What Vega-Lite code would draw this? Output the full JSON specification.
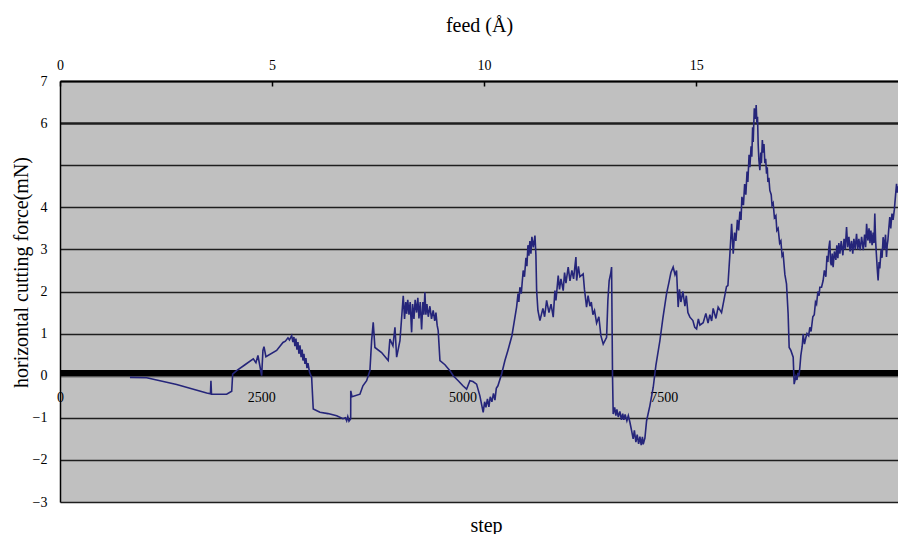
{
  "$schema": "https://vega.github.io/schema/vega-lite/v6.json",
  "autosize": "none",
  "width": 838,
  "height": 421,
  "padding": {"left": 60, "top": 81, "right": 0, "bottom": 32},
  "background": "white",
  "view": {"fill": "#c0c0c0", "stroke": null},
  "config": {
    "font": "Liberation Serif",
    "axis": {"labelFont": "Liberation Serif", "titleFont": "Liberation Serif", "labelColor": "black", "titleColor": "black", "titleFontWeight": "normal", "labelFontSize": 14, "titleFontSize": 20}
  },
  "datasets": {
    "force": [
      {"step": 869, "force": -0.04}, {"step": 1077, "force": -0.05}, {"step": 1449, "force": -0.21}, {"step": 1822, "force": -0.41},
      {"step": 1869, "force": -0.43}, {"step": 1875, "force": -0.12}, {"step": 1882, "force": -0.44}, {"step": 2070, "force": -0.44},
      {"step": 2133, "force": -0.37}, {"step": 2145, "force": 0.04}, {"step": 2195, "force": 0.12}, {"step": 2298, "force": 0.26},
      {"step": 2401, "force": 0.40}, {"step": 2434, "force": 0.31}, {"step": 2459, "force": 0.48}, {"step": 2505, "force": 0.0},
      {"step": 2521, "force": 0.60}, {"step": 2534, "force": 0.69}, {"step": 2558, "force": 0.45}, {"step": 2691, "force": 0.60},
      {"step": 2770, "force": 0.79}, {"step": 2800, "force": 0.82}, {"step": 2832, "force": 0.90}, {"step": 2850, "force": 0.85},
      {"step": 2878, "force": 0.95}, {"step": 2893, "force": 0.80}, {"step": 2906, "force": 0.92}, {"step": 2918, "force": 0.70},
      {"step": 2931, "force": 0.88}, {"step": 2943, "force": 0.62}, {"step": 2956, "force": 0.80}, {"step": 2968, "force": 0.52},
      {"step": 2981, "force": 0.72}, {"step": 2995, "force": 0.44}, {"step": 3008, "force": 0.62}, {"step": 3018, "force": 0.36},
      {"step": 3030, "force": 0.52}, {"step": 3043, "force": 0.28}, {"step": 3055, "force": 0.42}, {"step": 3068, "force": 0.18},
      {"step": 3080, "force": 0.30}, {"step": 3100, "force": 0.08}, {"step": 3126, "force": -0.04}, {"step": 3146, "force": -0.79},
      {"step": 3229, "force": -0.87}, {"step": 3329, "force": -0.90}, {"step": 3437, "force": -0.95}, {"step": 3515, "force": -1.02},
      {"step": 3545, "force": -1.00}, {"step": 3561, "force": -1.07}, {"step": 3575, "force": -0.97}, {"step": 3590, "force": -1.08},
      {"step": 3611, "force": -1.02}, {"step": 3612, "force": -0.36},
      {"step": 3627, "force": -0.50}, {"step": 3726, "force": -0.44}, {"step": 3763, "force": -0.24}, {"step": 3809, "force": -0.12},
      {"step": 3850, "force": 0.12}, {"step": 3871, "force": 0.83}, {"step": 3891, "force": 1.27}, {"step": 3912, "force": 0.67},
      {"step": 3995, "force": 0.55}, {"step": 4077, "force": 0.36}, {"step": 4098, "force": 0.87}, {"step": 4136, "force": 0.71},
      {"step": 4161, "force": 1.15}, {"step": 4182, "force": 0.44}, {"step": 4223, "force": 0.83}, {"step": 4264, "force": 1.90},
      {"step": 4280, "force": 1.35}, {"step": 4295, "force": 1.75}, {"step": 4306, "force": 1.47}, {"step": 4320, "force": 1.80},
      {"step": 4335, "force": 1.45}, {"step": 4350, "force": 1.75}, {"step": 4368, "force": 1.03}, {"step": 4380, "force": 1.70},
      {"step": 4397, "force": 1.35}, {"step": 4412, "force": 1.80}, {"step": 4430, "force": 1.50}, {"step": 4445, "force": 1.85},
      {"step": 4459, "force": 1.36}, {"step": 4475, "force": 1.75}, {"step": 4492, "force": 1.10}, {"step": 4508, "force": 1.75},
      {"step": 4520, "force": 1.45}, {"step": 4533, "force": 1.98}, {"step": 4545, "force": 1.45}, {"step": 4558, "force": 1.70},
      {"step": 4575, "force": 1.40}, {"step": 4595, "force": 1.65}, {"step": 4615, "force": 1.35}, {"step": 4636, "force": 1.55},
      {"step": 4655, "force": 1.30}, {"step": 4670, "force": 1.50}, {"step": 4685, "force": 1.20}, {"step": 4698, "force": 1.07},
      {"step": 4720, "force": 0.36}, {"step": 4782, "force": 0.26},
      {"step": 4844, "force": 0.12}, {"step": 4885, "force": 0.0}, {"step": 4947, "force": -0.12}, {"step": 5005, "force": -0.24},
      {"step": 5051, "force": -0.32}, {"step": 5092, "force": -0.12}, {"step": 5130, "force": -0.14}, {"step": 5175, "force": -0.20},
      {"step": 5216, "force": -0.48}, {"step": 5257, "force": -0.87}, {"step": 5275, "force": -0.62}, {"step": 5291, "force": -0.75},
      {"step": 5310, "force": -0.55}, {"step": 5328, "force": -0.74}, {"step": 5345, "force": -0.50},
      {"step": 5365, "force": -0.62}, {"step": 5385, "force": -0.42}, {"step": 5403, "force": -0.58}, {"step": 5420, "force": -0.30},
      {"step": 5440, "force": -0.24}, {"step": 5486, "force": 0.04},
      {"step": 5527, "force": 0.36}, {"step": 5564, "force": 0.60}, {"step": 5614, "force": 0.95}, {"step": 5672, "force": 1.63},
      {"step": 5690, "force": 1.95}, {"step": 5700, "force": 1.75}, {"step": 5713, "force": 2.10}, {"step": 5730, "force": 1.95},
      {"step": 5754, "force": 2.50}, {"step": 5770, "force": 2.35}, {"step": 5788, "force": 2.80}, {"step": 5800, "force": 2.60},
      {"step": 5813, "force": 3.10}, {"step": 5825, "force": 2.85}, {"step": 5837, "force": 3.20}, {"step": 5850, "force": 2.90},
      {"step": 5862, "force": 3.30}, {"step": 5880, "force": 3.05}, {"step": 5900, "force": 3.33}, {"step": 5912, "force": 2.86},
      {"step": 5921, "force": 2.02}, {"step": 5937, "force": 1.55}, {"step": 5962, "force": 1.31}, {"step": 5999, "force": 1.60},
      {"step": 6020, "force": 1.40}, {"step": 6045, "force": 1.79}, {"step": 6074, "force": 1.50}, {"step": 6100, "force": 1.70},
      {"step": 6127, "force": 1.39}, {"step": 6148, "force": 2.02},
      {"step": 6161, "force": 1.79}, {"step": 6189, "force": 2.38}, {"step": 6205, "force": 2.05}, {"step": 6223, "force": 2.30},
      {"step": 6251, "force": 2.02}, {"step": 6268, "force": 2.45},
      {"step": 6285, "force": 2.20}, {"step": 6313, "force": 2.58}, {"step": 6335, "force": 2.25}, {"step": 6359, "force": 2.50},
      {"step": 6380, "force": 2.30}, {"step": 6409, "force": 2.82},
      {"step": 6418, "force": 2.26}, {"step": 6440, "force": 2.60}, {"step": 6458, "force": 2.35}, {"step": 6499, "force": 2.42},
      {"step": 6515, "force": 2.05}, {"step": 6541, "force": 1.63},
      {"step": 6560, "force": 1.90}, {"step": 6583, "force": 1.65}, {"step": 6600, "force": 1.75}, {"step": 6620, "force": 1.45},
      {"step": 6640, "force": 1.55}, {"step": 6666, "force": 1.25}, {"step": 6694, "force": 1.40},
      {"step": 6719, "force": 0.95}, {"step": 6748, "force": 0.75}, {"step": 6790, "force": 0.91}, {"step": 6806, "force": 1.79},
      {"step": 6822, "force": 2.26}, {"step": 6843, "force": 2.45}, {"step": 6852, "force": 2.58}, {"step": 6864, "force": -0.04},
      {"step": 6872, "force": -0.91}, {"step": 6890, "force": -0.75}, {"step": 6905, "force": -0.95}, {"step": 6918, "force": -0.80},
      {"step": 6935, "force": -0.98}, {"step": 6955, "force": -0.85}, {"step": 6975, "force": -1.05}, {"step": 6990, "force": -0.90},
      {"step": 7005, "force": -1.05}, {"step": 7020, "force": -0.92}, {"step": 7042, "force": -1.07}, {"step": 7060, "force": -0.95},
      {"step": 7079, "force": -1.10}, {"step": 7100, "force": -1.30}, {"step": 7120, "force": -1.50}, {"step": 7135, "force": -1.30},
      {"step": 7154, "force": -1.58}, {"step": 7170, "force": -1.40}, {"step": 7188, "force": -1.62}, {"step": 7204, "force": -1.45},
      {"step": 7220, "force": -1.65}, {"step": 7235, "force": -1.45}, {"step": 7245, "force": -1.63}, {"step": 7266, "force": -1.48},
      {"step": 7287, "force": -1.07},
      {"step": 7328, "force": -0.71}, {"step": 7369, "force": -0.28}, {"step": 7402, "force": 0.24}, {"step": 7452, "force": 0.83},
      {"step": 7489, "force": 1.36}, {"step": 7535, "force": 1.95}, {"step": 7564, "force": 2.21}, {"step": 7589, "force": 2.45},
      {"step": 7617, "force": 2.58}, {"step": 7640, "force": 2.40}, {"step": 7659, "force": 2.50}, {"step": 7679, "force": 1.63},
      {"step": 7695, "force": 2.05}, {"step": 7713, "force": 1.75},
      {"step": 7738, "force": 2.00}, {"step": 7763, "force": 1.65}, {"step": 7780, "force": 1.90}, {"step": 7800, "force": 1.50},
      {"step": 7825, "force": 1.39},
      {"step": 7862, "force": 1.31}, {"step": 7885, "force": 1.15}, {"step": 7908, "force": 1.11}, {"step": 7930, "force": 1.35},
      {"step": 7949, "force": 1.20}, {"step": 7990, "force": 1.26},
      {"step": 8023, "force": 1.48}, {"step": 8050, "force": 1.25}, {"step": 8073, "force": 1.45}, {"step": 8095, "force": 1.30},
      {"step": 8114, "force": 1.60}, {"step": 8148, "force": 1.36},
      {"step": 8176, "force": 1.63}, {"step": 8218, "force": 1.50}, {"step": 8247, "force": 1.79}, {"step": 8280, "force": 2.12},
      {"step": 8297, "force": 2.14}, {"step": 8321, "force": 2.86}, {"step": 8343, "force": 3.61}, {"step": 8363, "force": 2.90},
      {"step": 8380, "force": 3.40}, {"step": 8396, "force": 3.20}, {"step": 8415, "force": 3.70}, {"step": 8430, "force": 3.45},
      {"step": 8446, "force": 3.90}, {"step": 8460, "force": 3.70}, {"step": 8471, "force": 4.25}, {"step": 8490, "force": 4.05},
      {"step": 8505, "force": 4.55}, {"step": 8520, "force": 4.30}, {"step": 8535, "force": 4.85}, {"step": 8545, "force": 4.60},
      {"step": 8560, "force": 5.25}, {"step": 8570, "force": 4.95}, {"step": 8585, "force": 5.45}, {"step": 8594, "force": 5.20},
      {"step": 8604, "force": 5.90}, {"step": 8611, "force": 5.55}, {"step": 8625, "force": 6.35}, {"step": 8641, "force": 6.10},
      {"step": 8648, "force": 6.43}, {"step": 8657, "force": 6.00}, {"step": 8665, "force": 6.15}, {"step": 8673, "force": 5.50},
      {"step": 8682, "force": 5.12}, {"step": 8694, "force": 4.88}, {"step": 8705, "force": 5.30}, {"step": 8713, "force": 5.05},
      {"step": 8725, "force": 5.60}, {"step": 8735, "force": 5.30}, {"step": 8745, "force": 5.50}, {"step": 8756, "force": 5.05},
      {"step": 8766, "force": 5.15}, {"step": 8777, "force": 4.80}, {"step": 8786, "force": 4.95}, {"step": 8794, "force": 4.60},
      {"step": 8806, "force": 4.70}, {"step": 8818, "force": 4.40}, {"step": 8835, "force": 4.30}, {"step": 8845, "force": 4.05},
      {"step": 8859, "force": 4.10}, {"step": 8875, "force": 3.75}, {"step": 8893, "force": 3.80}, {"step": 8905, "force": 3.45},
      {"step": 8921, "force": 3.50}, {"step": 8940, "force": 3.15}, {"step": 8955, "force": 3.20}, {"step": 8970, "force": 2.85},
      {"step": 8983, "force": 2.90}, {"step": 9005, "force": 2.40},
      {"step": 9025, "force": 2.18}, {"step": 9045, "force": 1.47}, {"step": 9058, "force": 0.67}, {"step": 9079, "force": 0.60},
      {"step": 9108, "force": 0.44}, {"step": 9120, "force": -0.20}, {"step": 9141, "force": -0.02}, {"step": 9155, "force": -0.10},
      {"step": 9166, "force": 0.07}, {"step": 9180, "force": 0.0},
      {"step": 9191, "force": 0.20}, {"step": 9203, "force": 0.48}, {"step": 9220, "force": 0.70}, {"step": 9232, "force": 0.99},
      {"step": 9248, "force": 0.75}, {"step": 9265, "force": 0.90}, {"step": 9280, "force": 1.00}, {"step": 9300, "force": 0.95},
      {"step": 9315, "force": 1.15}, {"step": 9330, "force": 1.05}, {"step": 9352, "force": 1.40}, {"step": 9370, "force": 1.45},
      {"step": 9385, "force": 1.75}, {"step": 9398, "force": 1.70}, {"step": 9415, "force": 2.00}, {"step": 9430, "force": 1.90},
      {"step": 9439, "force": 2.10}, {"step": 9460, "force": 2.10},
      {"step": 9480, "force": 2.26}, {"step": 9495, "force": 2.50}, {"step": 9514, "force": 2.35}, {"step": 9528, "force": 2.85},
      {"step": 9539, "force": 2.70}, {"step": 9552, "force": 3.05}, {"step": 9563, "force": 3.21}, {"step": 9572, "force": 2.70},
      {"step": 9582, "force": 2.62}, {"step": 9593, "force": 2.90}, {"step": 9604, "force": 2.58}, {"step": 9620, "force": 2.95},
      {"step": 9638, "force": 2.75}, {"step": 9650, "force": 3.10}, {"step": 9663, "force": 2.79}, {"step": 9675, "force": 3.15},
      {"step": 9688, "force": 2.90}, {"step": 9705, "force": 3.20}, {"step": 9725, "force": 2.86}, {"step": 9740, "force": 3.25},
      {"step": 9755, "force": 3.00}, {"step": 9771, "force": 3.53}, {"step": 9785, "force": 3.05}, {"step": 9800, "force": 3.30},
      {"step": 9815, "force": 2.95}, {"step": 9833, "force": 3.20}, {"step": 9848, "force": 2.90}, {"step": 9862, "force": 3.25},
      {"step": 9878, "force": 3.00}, {"step": 9895, "force": 3.37}, {"step": 9910, "force": 3.00}, {"step": 9924, "force": 3.25},
      {"step": 9940, "force": 2.98}, {"step": 9958, "force": 3.30}, {"step": 9978, "force": 2.98}, {"step": 9995, "force": 3.35},
      {"step": 10008, "force": 3.05}, {"step": 10020, "force": 3.61}, {"step": 10036, "force": 3.21}, {"step": 10050, "force": 3.50},
      {"step": 10062, "force": 3.15}, {"step": 10073, "force": 3.45}, {"step": 10088, "force": 3.10}, {"step": 10101, "force": 3.40},
      {"step": 10112, "force": 3.15}, {"step": 10122, "force": 3.85}, {"step": 10132, "force": 3.20}, {"step": 10141, "force": 2.90},
      {"step": 10152, "force": 2.55}, {"step": 10163, "force": 2.26}, {"step": 10175, "force": 2.70}, {"step": 10184, "force": 2.55},
      {"step": 10200, "force": 3.00}, {"step": 10212, "force": 2.80}, {"step": 10225, "force": 3.29}, {"step": 10240, "force": 3.00},
      {"step": 10255, "force": 3.35}, {"step": 10267, "force": 2.82}, {"step": 10276, "force": 3.10}, {"step": 10284, "force": 3.21},
      {"step": 10296, "force": 3.50}, {"step": 10308, "force": 3.77}, {"step": 10320, "force": 3.50}, {"step": 10335, "force": 3.85},
      {"step": 10349, "force": 3.70}, {"step": 10365, "force": 3.95}, {"step": 10380, "force": 4.30}, {"step": 10392, "force": 4.56},
      {"step": 10400, "force": 4.35}, {"step": 10408, "force": 4.50}
    ],
    "feedRange": [{"feed": 0}, {"feed": 19.76}]
  },
  "layer": [
    {
      "data": {"name": "feedRange"},
      "mark": {"type": "point", "opacity": 0},
      "encoding": {
        "x": {
          "field": "feed", "type": "quantitative",
          "scale": {"domain": [0, 19.76], "nice": false, "zero": false},
          "axis": {
            "orient": "top", "title": "feed (Å)", "values": [0, 5, 10, 15],
            "domainColor": "black", "domainWidth": 2, "ticks": true, "tickColor": "black", "tickSize": -5, "tickWidth": 1.5,
            "labelPadding": 14, "labelFlush": false, "labelOverlap": false, "grid": false,
            "titleY": -46, "titleBaseline": "bottom"
          }
        }
      }
    },
    {
      "data": {"name": "force"},
      "layer": [
        {
          "mark": {"type": "rule", "color": "black", "strokeWidth": 5},
          "encoding": {"y": {"datum": 0.07, "type": "quantitative"}}
        },
        {
          "mark": {"type": "line", "color": "#25257a", "strokeWidth": 1.6, "interpolate": "linear"},
          "encoding": {
            "x": {
              "field": "step", "type": "quantitative",
              "scale": {"domain": [0, 10410], "nice": false, "zero": false},
              "axis": {
                "orient": "bottom", "title": "step", "values": [0, 2500, 5000, 7500], "format": "d",
                "offset": -127, "domainColor": "white", "domainWidth": 1.5, "ticks": false, "grid": false,
                "labelPadding": 15, "labelFlush": false, "labelOverlap": false,
                "titleX": 426, "titleY": 140, "titleBaseline": "top"
              }
            },
            "y": {
              "field": "force", "type": "quantitative",
              "scale": {"domain": [-3, 7], "nice": false, "zero": false},
              "axis": {
                "title": "horizontal cutting force(mN)", "values": [-3, -2, -1, 0, 1, 2, 3, 4, 5, 6, 7],
                "labelExpr": "datum.value == 5 ? '' : datum.label",
                "domainColor": "black", "domainWidth": 1.5, "ticks": false, "labelPadding": 13,
                "grid": true, "gridColor": "#1e1e1e",
                "gridWidth": {"condition": {"test": "datum.value == 6", "value": 2.4}, "value": 1.3},
                "titleX": -39, "titleY": 191, "titleAngle": -90, "titleBaseline": "middle", "titleAlign": "center"
              }
            }
          }
        }
      ]
    }
  ],
  "resolve": {"scale": {"x": "independent"}, "axis": {"x": "independent"}}
}
